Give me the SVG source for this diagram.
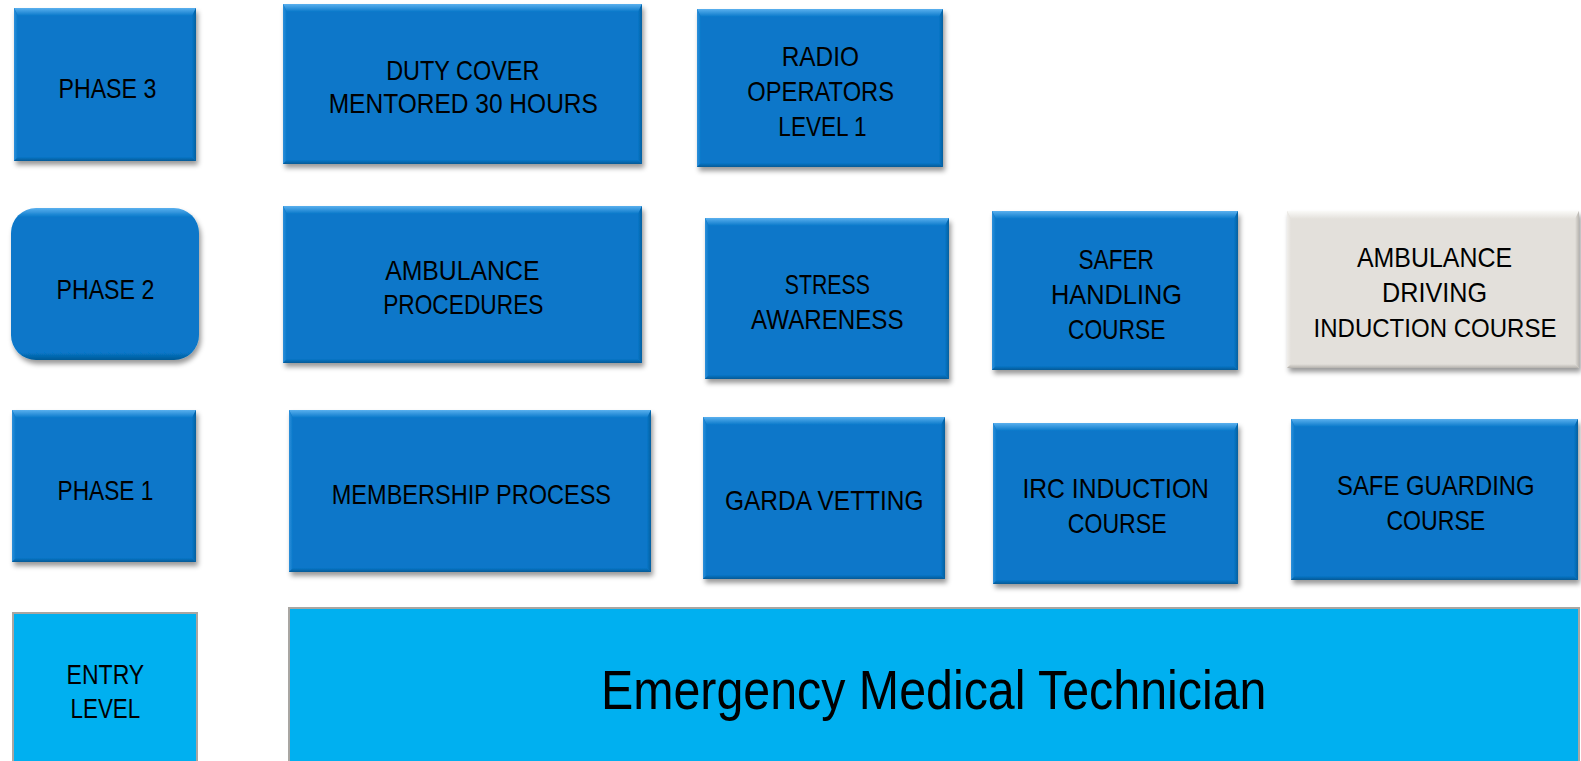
<svg xmlns="http://www.w3.org/2000/svg" width="1581" height="761" viewBox="0 0 1581 761">
<style>
.base{fill:#0777C9;filter:url(#sh)}
.bt{fill:url(#gTop)}
.bl{fill:url(#gLeft)}
.br{fill:url(#gRight)}
.bb{fill:url(#gBot)}
.gbase{fill:#E3E0DB;filter:url(#sh)}
.gt{fill:url(#gyTop)}
.gl{fill:url(#gyLeft)}
.gr{fill:url(#gyRight)}
.gb{fill:url(#gyBot)}
.flat{fill:#00B0F0;stroke:#A9A6A2;stroke-width:2}
.t{font-family:"Liberation Sans",Arial,sans-serif;font-size:28px;fill:#000;text-anchor:middle}
.big{font-family:"Liberation Sans",Arial,sans-serif;font-size:56px;fill:#000;text-anchor:middle}
</style>
<defs>
<filter id="sh" x="-10%" y="-10%" width="120%" height="125%">
<feDropShadow dx="2" dy="4" stdDeviation="2.5" flood-color="#000" flood-opacity="0.4"/>
</filter>
<linearGradient id="gTop" x1="0" y1="0" x2="0" y2="1"><stop offset="0" stop-color="#5AB0EE"/><stop offset="1" stop-color="#0777C9"/></linearGradient>
<linearGradient id="gLeft" x1="0" y1="0" x2="1" y2="0"><stop offset="0" stop-color="#2E90DA"/><stop offset="1" stop-color="#0777C9"/></linearGradient>
<linearGradient id="gRight" x1="0" y1="0" x2="1" y2="0"><stop offset="0" stop-color="#0777C9"/><stop offset="1" stop-color="#05609F"/></linearGradient>
<linearGradient id="gBot" x1="0" y1="0" x2="0" y2="1"><stop offset="0" stop-color="#0777C9"/><stop offset="1" stop-color="#055A96"/></linearGradient>
<linearGradient id="gyTop" x1="0" y1="0" x2="0" y2="1"><stop offset="0" stop-color="#FAFAF8"/><stop offset="1" stop-color="#E3E0DB"/></linearGradient>
<linearGradient id="gyLeft" x1="0" y1="0" x2="1" y2="0"><stop offset="0" stop-color="#F0EEEB"/><stop offset="1" stop-color="#E3E0DB"/></linearGradient>
<linearGradient id="gyRight" x1="0" y1="0" x2="1" y2="0"><stop offset="0" stop-color="#E3E0DB"/><stop offset="1" stop-color="#B9B6B1"/></linearGradient>
<linearGradient id="gyBot" x1="0" y1="0" x2="0" y2="1"><stop offset="0" stop-color="#E3E0DB"/><stop offset="1" stop-color="#B5B2AD"/></linearGradient>
<linearGradient id="gRound" x1="0" y1="0" x2="0" y2="1"><stop offset="0" stop-color="#5AB0EE"/><stop offset="0.06" stop-color="#0777C9"/><stop offset="0.95" stop-color="#0777C9"/><stop offset="1" stop-color="#055A96"/></linearGradient>
</defs>
<rect width="1581" height="761" fill="#FFFFFF"/>

<g id="connectors"></g>

<g id="phase3">
<rect class="base" x="14" y="8" width="182" height="153"/>
<polygon class="bt" points="14,8 196,8 192,16 18,16"/>
<polygon class="bl" points="14,8 18,16 18,157 14,161"/>
<polygon class="br" points="196,8 196,161 192,157 192,16"/>
<polygon class="bb" points="14,161 18,157 192,157 196,161"/>
<text class="t" x="107.4" y="97.8" textLength="97.8" lengthAdjust="spacingAndGlyphs">PHASE 3</text>
</g>

<g id="duty-cover">
<rect class="base" x="283" y="4" width="359" height="160"/>
<polygon class="bt" points="283,4 642,4 638,12 287,12"/>
<polygon class="bl" points="283,4 287,12 287,160 283,164"/>
<polygon class="br" points="642,4 642,164 638,160 638,12"/>
<polygon class="bb" points="283,164 287,160 638,160 642,164"/>
<text class="t" x="462.8" y="79.7" textLength="153.3" lengthAdjust="spacingAndGlyphs">DUTY COVER</text>
<text class="t" x="463.3" y="112.9" textLength="269.2" lengthAdjust="spacingAndGlyphs">MENTORED 30 HOURS</text>
</g>

<g id="radio-operators">
<rect class="base" x="697" y="9" width="246" height="158"/>
<polygon class="bt" points="697,9 943,9 939,17 701,17"/>
<polygon class="bl" points="697,9 701,17 701,163 697,167"/>
<polygon class="br" points="943,9 943,167 939,163 939,17"/>
<polygon class="bb" points="697,167 701,163 939,163 943,167"/>
<text class="t" x="820.3" y="66" textLength="77.3" lengthAdjust="spacingAndGlyphs">RADIO</text>
<text class="t" x="820.7" y="100.5" textLength="146.7" lengthAdjust="spacingAndGlyphs">OPERATORS</text>
<text class="t" x="822.5" y="135.5" textLength="88.3" lengthAdjust="spacingAndGlyphs">LEVEL 1</text>
</g>

<g id="phase2">
<rect x="11" y="208" width="188" height="152" rx="25" fill="url(#gRound)" filter="url(#sh)"/>
<text class="t" x="105.4" y="298.5" textLength="97.8" lengthAdjust="spacingAndGlyphs">PHASE 2</text>
</g>

<g id="ambulance-procedures">
<rect class="base" x="283" y="206" width="359" height="157"/>
<polygon class="bt" points="283,206 642,206 638,214 287,214"/>
<polygon class="bl" points="283,206 287,214 287,359 283,363"/>
<polygon class="br" points="642,206 642,363 638,359 638,214"/>
<polygon class="bb" points="283,363 287,359 638,359 642,363"/>
<text class="t" x="462.3" y="280.3" textLength="154.3" lengthAdjust="spacingAndGlyphs">AMBULANCE</text>
<text class="t" x="463.3" y="313.6" textLength="160.3" lengthAdjust="spacingAndGlyphs">PROCEDURES</text>
</g>

<g id="stress-awareness">
<rect class="base" x="705" y="218" width="244" height="161"/>
<polygon class="bt" points="705,218 949,218 945,226 709,226"/>
<polygon class="bl" points="705,218 709,226 709,375 705,379"/>
<polygon class="br" points="949,218 949,379 945,375 945,226"/>
<polygon class="bb" points="705,379 709,375 945,375 949,379"/>
<text class="t" x="827.3" y="294.4" textLength="85" lengthAdjust="spacingAndGlyphs">STRESS</text>
<text class="t" x="827.3" y="328.7" textLength="152.5" lengthAdjust="spacingAndGlyphs">AWARENESS</text>
</g>

<g id="safer-handling">
<rect class="base" x="992" y="211" width="246" height="159"/>
<polygon class="bt" points="992,211 1238,211 1234,219 996,219"/>
<polygon class="bl" points="992,211 996,219 996,366 992,370"/>
<polygon class="br" points="1238,211 1238,370 1234,366 1234,219"/>
<polygon class="bb" points="992,370 996,366 1234,366 1238,370"/>
<text class="t" x="1116.2" y="269.2" textLength="75.5" lengthAdjust="spacingAndGlyphs">SAFER</text>
<text class="t" x="1116.5" y="303.5" textLength="131" lengthAdjust="spacingAndGlyphs">HANDLING</text>
<text class="t" x="1116.7" y="338.8" textLength="97.5" lengthAdjust="spacingAndGlyphs">COURSE</text>
</g>

<g id="ambulance-driving">
<rect class="gbase" x="1287" y="211" width="292" height="157"/>
<polygon class="gt" points="1287,211 1579,211 1575,219 1291,219"/>
<polygon class="gl" points="1287,211 1291,219 1291,364 1287,368"/>
<polygon class="gr" points="1579,211 1579,368 1575,364 1575,219"/>
<polygon class="gb" points="1287,368 1291,364 1575,364 1579,368"/>
<text class="t" x="1434.5" y="266.5" textLength="155" lengthAdjust="spacingAndGlyphs">AMBULANCE</text>
<text class="t" x="1434.5" y="301.7" textLength="105" lengthAdjust="spacingAndGlyphs">DRIVING</text>
<text class="t" x="1435" y="337.3" style="font-size:26px" textLength="243" lengthAdjust="spacingAndGlyphs">INDUCTION COURSE</text>
</g>

<g id="phase1">
<rect class="base" x="12" y="410" width="184" height="152"/>
<polygon class="bt" points="12,410 196,410 192,418 16,418"/>
<polygon class="bl" points="12,410 16,418 16,558 12,562"/>
<polygon class="br" points="196,410 196,562 192,558 192,418"/>
<polygon class="bb" points="12,562 16,558 192,558 196,562"/>
<text class="t" x="105.4" y="500.1" textLength="95.8" lengthAdjust="spacingAndGlyphs">PHASE 1</text>
</g>

<g id="membership-process">
<rect class="base" x="289" y="410" width="362" height="162"/>
<polygon class="bt" points="289,410 651,410 647,418 293,418"/>
<polygon class="bl" points="289,410 293,418 293,568 289,572"/>
<polygon class="br" points="651,410 651,572 647,568 647,418"/>
<polygon class="bb" points="289,572 293,568 647,568 651,572"/>
<text class="t" x="471.4" y="504.2" textLength="279.3" lengthAdjust="spacingAndGlyphs">MEMBERSHIP  PROCESS</text>
</g>

<g id="garda-vetting">
<rect class="base" x="703" y="417" width="242" height="162"/>
<polygon class="bt" points="703,417 945,417 941,425 707,425"/>
<polygon class="bl" points="703,417 707,425 707,575 703,579"/>
<polygon class="br" points="945,417 945,579 941,575 941,425"/>
<polygon class="bb" points="703,579 707,575 941,575 945,579"/>
<text class="t" x="824.3" y="510.2" textLength="198.6" lengthAdjust="spacingAndGlyphs">GARDA VETTING</text>
</g>

<g id="irc-induction">
<rect class="base" x="993" y="423" width="245" height="161"/>
<polygon class="bt" points="993,423 1238,423 1234,431 997,431"/>
<polygon class="bl" points="993,423 997,431 997,580 993,584"/>
<polygon class="br" points="1238,423 1238,584 1234,580 1234,431"/>
<polygon class="bb" points="993,584 997,580 1234,580 1238,584"/>
<text class="t" x="1115.7" y="498.1" textLength="186.5" lengthAdjust="spacingAndGlyphs">IRC INDUCTION</text>
<text class="t" x="1117.2" y="533.4" textLength="98.8" lengthAdjust="spacingAndGlyphs">COURSE</text>
</g>

<g id="safe-guarding">
<rect class="base" x="1291" y="419" width="287" height="161"/>
<polygon class="bt" points="1291,419 1578,419 1574,427 1295,427"/>
<polygon class="bl" points="1291,419 1295,427 1295,576 1291,580"/>
<polygon class="br" points="1578,419 1578,580 1574,576 1574,427"/>
<polygon class="bb" points="1291,580 1295,576 1574,576 1578,580"/>
<text class="t" x="1435.8" y="495.1" textLength="197.6" lengthAdjust="spacingAndGlyphs">SAFE GUARDING</text>
<text class="t" x="1435.8" y="530.4" textLength="98.8" lengthAdjust="spacingAndGlyphs">COURSE</text>
</g>

<g id="entry-level">
<rect class="flat" x="13" y="613" width="184" height="160"/>
<text class="t" x="105.4" y="683.6" textLength="77.6" lengthAdjust="spacingAndGlyphs">ENTRY</text>
<text class="t" x="105.4" y="717.9" textLength="69.6" lengthAdjust="spacingAndGlyphs">LEVEL</text>
</g>

<g id="emt">
<rect class="flat" x="289" y="608" width="1290" height="170"/>
<text class="big" x="933.7" y="708.8" textLength="665.5" lengthAdjust="spacingAndGlyphs">Emergency Medical Technician</text>
</g>
</svg>
